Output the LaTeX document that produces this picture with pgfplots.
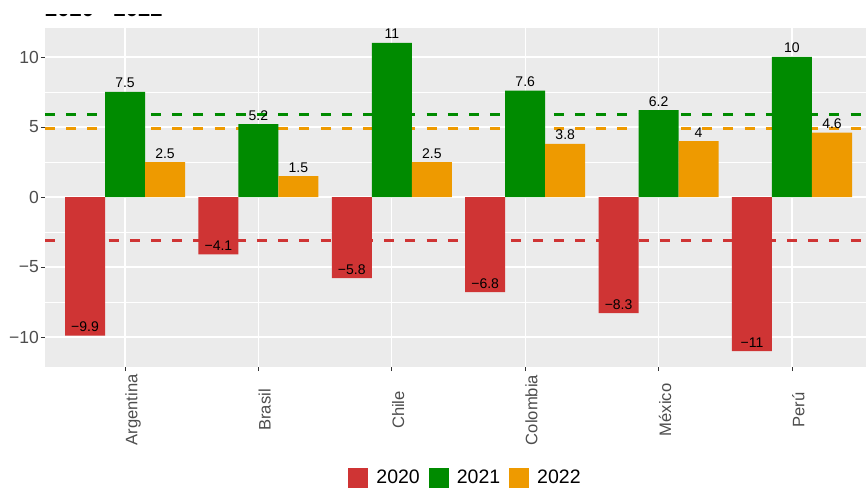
\documentclass[border=0pt]{standalone}
\usepackage{pgfplots}
\usepackage{pgfplotstable}
\pgfplotsset{compat=1.18}
\usepackage{fontspec}
\setmainfont{Liberation Sans}
\definecolor{cR}{HTML}{CF3434}
\definecolor{cG}{HTML}{008B00}
\definecolor{cO}{HTML}{EE9A00}
\definecolor{panel}{HTML}{EBEBEB}
\definecolor{txt}{HTML}{4D4D4D}

% x positions already include the dodge offset (-0.3, 0, +0.3)
\pgfplotstableread{
x y lab
0.7 -9.9 −9.9
1.7 -4.1 −4.1
2.7 -5.8 −5.8
3.7 -6.8 −6.8
4.7 -8.3 −8.3
5.7 -11 −11
}\dA
\pgfplotstableread{
x y lab
1 7.5 7.5
2 5.2 5.2
3 11 11
4 7.6 7.6
5 6.2 6.2
6 10 10
}\dB
\pgfplotstableread{
x y lab
1.3 2.5 2.5
2.3 1.5 1.5
3.3 2.5 2.5
4.3 3.8 3.8
5.3 4 4
6.3 4.6 4.6
}\dC

\begin{document}
\begin{tikzpicture}[x=1pt,y=1pt]
\useasboundingbox (0,0) rectangle (866,-487);
\node[anchor=base west, font=\fontsize{22}{24}\selectfont\bfseries, inner sep=0pt] at (45,-17) {2020 - 2022};
\fill[white] (0,5) rectangle (866,-14);
\begin{axis}[
  at={(45pt,-367pt)}, anchor=south west,
  scale only axis, width=821pt, height=339pt,
  xmin=0.4, xmax=6.555, ymin=-12.14, ymax=12.07,
  axis background/.style={fill=panel},
  axis line style={draw=none},
  xtick={1,2,3,4,5,6},
  xticklabels={Argentina,Brasil,Chile,Colombia,México,Perú},
  ytick={-10,-5,0,5,10},
  yticklabels={−10,−5,0,5,10},
  minor ytick={-7.5,-2.5,2.5,7.5},
  grid=both,
  major grid style={white, line width=1.1pt},
  minor grid style={white, line width=0.55pt},
  tick align=outside, tick pos=left,
  major tick length=4pt,
  minor tick length=0pt,
  tick style={color=black!80, line width=0.9pt},
  xticklabel style={rotate=90, anchor=north, inner sep=0pt, font=\fontsize{16.6}{18}\selectfont, text=txt, xshift=-39pt},
  yticklabel style={inner sep=0pt, font=\fontsize{17.5}{19}\selectfont, text=txt, xshift=-2pt},
  legend style={at={(axis description cs:0.5110,-0.326)}, anchor=center, draw=none, fill=none,
    inner sep=0pt, row sep=0pt, font=\fontsize{19.5}{21}\selectfont,
    nodes={inner sep=0pt},
    /tikz/every odd column/.append style={column sep=8pt},
    /tikz/every even column/.append style={column sep=9pt}},
  legend columns=3,
  point meta=explicit symbolic,
  nodes near coords,
  every node near coord/.append style={anchor=base, yshift=4pt, inner sep=0pt, font=\fontsize{14}{16}\selectfont, text=black},
]
\addplot[cG, line width=2.4pt, dash pattern=on 10pt off 11.2pt, forget plot, nodes near coords=] coordinates {(0.4,5.9) (6.555,5.9)};
\addplot[cO, line width=2.4pt, dash pattern=on 10pt off 11.2pt, forget plot, nodes near coords=] coordinates {(0.4,4.9) (6.555,4.9)};
\addplot[cR, line width=2.4pt, dash pattern=on 10pt off 11.2pt, forget plot, nodes near coords=] coordinates {(0.4,-3.1) (6.555,-3.1)};
\addplot[ybar, bar width=0.3, bar shift=0, fill=cR, draw=none,
  legend image code/.code={\fill[cR] (0pt,-10pt) rectangle (20pt,10pt);}]
  table[x=x, y=y, meta=lab] {\dA};
\addlegendentry{2020}
\addplot[ybar, bar width=0.3, bar shift=0, fill=cG, draw=none,
  legend image code/.code={\fill[cG] (0pt,-10pt) rectangle (20pt,10pt);}]
  table[x=x, y=y, meta=lab] {\dB};
\addlegendentry{2021}
\addplot[ybar, bar width=0.3, bar shift=0, fill=cO, draw=none,
  legend image code/.code={\fill[cO] (0pt,-10pt) rectangle (20pt,10pt);}]
  table[x=x, y=y, meta=lab] {\dC};
\addlegendentry{2022}
\end{axis}
\end{tikzpicture}
\end{document}
